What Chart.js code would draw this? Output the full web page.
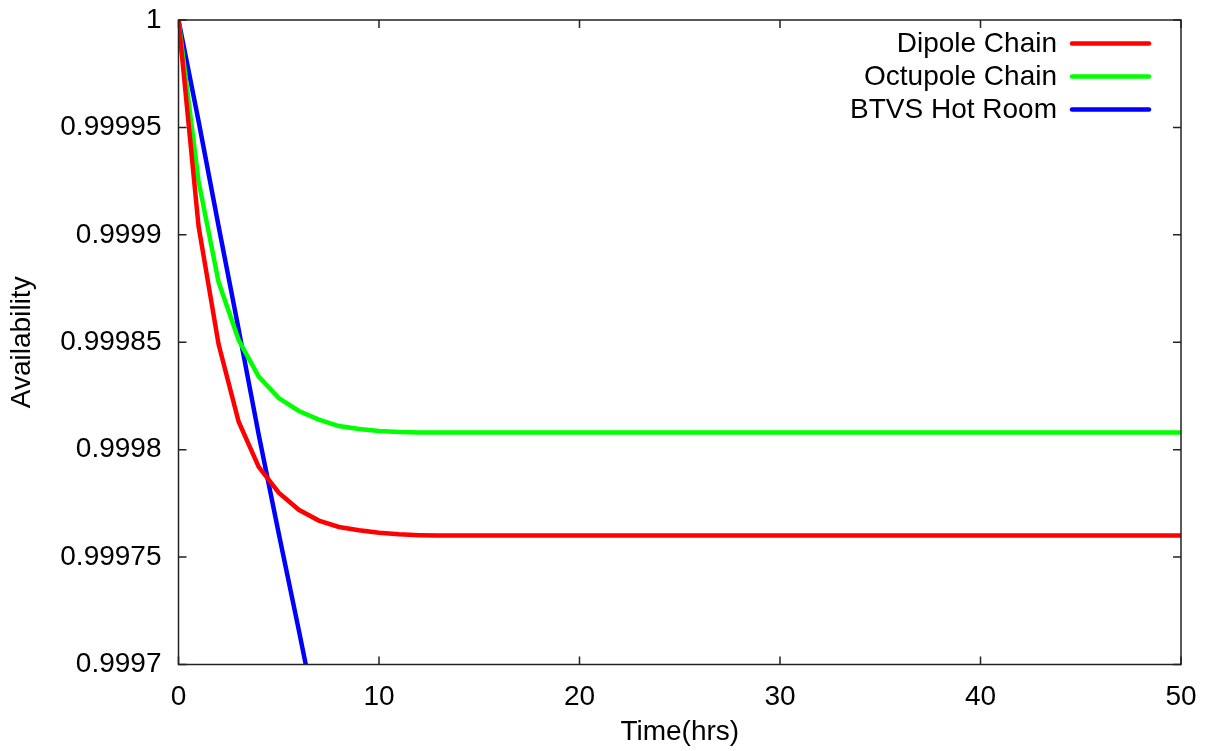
<!DOCTYPE html>
<html>
<head>
<meta charset="utf-8">
<title>Availability vs Time</title>
<script src="https://cdn.jsdelivr.net/npm/chart.js@4.4.1/dist/chart.umd.min.js"></script>
<style>
  html, body { margin: 0; padding: 0; background: #ffffff; }
  #wrap { width: 1213px; height: 751px; }
</style>
</head>
<body>
<div id="wrap"><canvas id="chart" width="1213" height="751"></canvas></div>
<script>
// Hours sampled once per hour
const hours = Array.from({ length: 51 }, (_, i) => i);

// Availability of the dipole chain, hour 0..50
const dipoleChain = [
  1, 0.999904, 0.999849, 0.999813, 0.999792, 0.99978, 0.999772, 0.999767,
  0.999764, 0.9997625, 0.9997613, 0.9997606, 0.9997602, 0.99976, 0.99976, 0.99976,
  0.99976, 0.99976, 0.99976, 0.99976, 0.99976, 0.99976, 0.99976, 0.99976,
  0.99976, 0.99976, 0.99976, 0.99976, 0.99976, 0.99976, 0.99976, 0.99976,
  0.99976, 0.99976, 0.99976, 0.99976, 0.99976, 0.99976, 0.99976, 0.99976,
  0.99976, 0.99976, 0.99976, 0.99976, 0.99976, 0.99976, 0.99976, 0.99976,
  0.99976, 0.99976, 0.99976
];

// Availability of the octupole chain, hour 0..50
const octupoleChain = [
  1, 0.999925, 0.999878, 0.999851, 0.999834, 0.999824, 0.999818, 0.999814,
  0.999811, 0.9998096, 0.9998087, 0.9998082, 0.999808, 0.999808, 0.999808, 0.999808,
  0.999808, 0.999808, 0.999808, 0.999808, 0.999808, 0.999808, 0.999808, 0.999808,
  0.999808, 0.999808, 0.999808, 0.999808, 0.999808, 0.999808, 0.999808, 0.999808,
  0.999808, 0.999808, 0.999808, 0.999808, 0.999808, 0.999808, 0.999808, 0.999808,
  0.999808, 0.999808, 0.999808, 0.999808, 0.999808, 0.999808, 0.999808, 0.999808,
  0.999808, 0.999808, 0.999808
];

// Availability of the BTVS hot room, hour 0..7 (falls off the bottom of the axis)
const btvsHours = [0, 1, 2, 3, 4, 5, 6, 7];
const btvsHotRoom = [1, 0.999953, 0.999904, 0.999856, 0.999807, 0.999761, 0.999716, 0.99967];

// Axis ticks
const xTickValues = [0, 10, 20, 30, 40, 50];
const yTickValues = [0.9997, 0.99975, 0.9998, 0.99985, 0.9999, 0.99995, 1];
const yTickLabels = ['0.9997', '0.99975', '0.9998', '0.99985', '0.9999', '0.99995', '1'];

const seriesLabels = ['Dipole Chain', 'Octupole Chain', 'BTVS Hot Room'];
const seriesColors = ['#ff0000', '#00ff00', '#0000ff'];

const FONT = "'Liberation Sans', Arial, Helvetica, sans-serif";
const TEXT_SIZE = 28;

function pairs(xs, ys) {
  return ys.map((y, i) => ({ x: xs[i], y: y }));
}

// Frame with inward ticks on all four sides
const framePlugin = {
  id: 'frame',
  afterDatasetsDraw(chart) {
    const { ctx, chartArea: a, scales } = chart;
    const tick = 8;
    ctx.save();
    ctx.strokeStyle = '#222222';
    ctx.lineWidth = 1.5;
    ctx.beginPath();
    xTickValues.forEach(v => {
      const px = scales.x.getPixelForValue(v);
      ctx.moveTo(px, a.bottom); ctx.lineTo(px, a.bottom - tick);
      ctx.moveTo(px, a.top); ctx.lineTo(px, a.top + tick);
    });
    yTickValues.forEach(v => {
      const py = scales.y.getPixelForValue(v);
      ctx.moveTo(a.left, py); ctx.lineTo(a.left + tick, py);
      ctx.moveTo(a.right, py); ctx.lineTo(a.right - tick, py);
    });
    ctx.stroke();
    ctx.strokeRect(a.left, a.top, a.right - a.left, a.bottom - a.top);
    ctx.restore();
  }
};

// Key in the top-right corner: label text followed by a line sample
const keyPlugin = {
  id: 'key',
  afterDraw(chart) {
    const { ctx } = chart;
    const o = chart.options.plugins.key;
    ctx.save();
    ctx.font = o.fontSize + 'px ' + FONT;
    ctx.textAlign = 'right';
    ctx.textBaseline = 'middle';
    chart.data.datasets.forEach((ds, i) => {
      const y = o.top + i * o.rowHeight;
      ctx.fillStyle = '#000000';
      ctx.fillText(ds.label, o.textRight, y + 1);
      ctx.strokeStyle = ds.borderColor;
      ctx.lineWidth = ds.borderWidth;
      ctx.lineCap = 'round';
      ctx.beginPath();
      ctx.moveTo(o.lineStart, y);
      ctx.lineTo(o.lineEnd, y);
      ctx.stroke();
    });
    ctx.restore();
  }
};

new Chart(document.getElementById('chart'), {
  type: 'line',
  data: {
    datasets: [
      { label: seriesLabels[0], data: pairs(hours, dipoleChain) },
      { label: seriesLabels[1], data: pairs(hours, octupoleChain) },
      { label: seriesLabels[2], data: pairs(btvsHours, btvsHotRoom) }
    ].map((d, i) => Object.assign(d, {
      borderColor: seriesColors[i],
      backgroundColor: seriesColors[i],
      borderWidth: 4.5,
      pointRadius: 0,
      tension: 0,
      fill: false
    }))
  },
  options: {
    responsive: false,
    animation: false,
    layout: { padding: { top: 20, right: 32, left: 0, bottom: 0 } },
    plugins: {
      legend: { display: false },
      tooltip: { enabled: false },
      key: { fontSize: TEXT_SIZE, top: 43.5, rowHeight: 33, textRight: 1057, lineStart: 1072, lineEnd: 1149 }
    },
    scales: {
      x: {
        type: 'linear',
        min: 0,
        max: 50,
        afterFit(scale) {
          scale.height = 86.5;
          scale.paddingLeft = 0;
          scale.paddingRight = 0;
        },
        afterBuildTicks(scale) { scale.ticks = xTickValues.map(v => ({ value: v })); },
        grid: { display: false, drawTicks: false },
        border: { display: false },
        ticks: {
          color: '#000000',
          font: { family: FONT, size: TEXT_SIZE },
          padding: 16,
          maxRotation: 0,
          callback: v => String(v)
        },
        title: {
          display: true,
          text: 'Time(hrs)',
          color: '#000000',
          font: { family: FONT, size: TEXT_SIZE },
          padding: { top: 2, bottom: 2 }
        }
      },
      y: {
        type: 'linear',
        min: 0.9997,
        max: 1,
        afterFit(scale) {
          scale.width = 178.5;
          scale.paddingTop = 0;
          scale.paddingBottom = 0;
        },
        afterBuildTicks(scale) { scale.ticks = yTickValues.map(v => ({ value: v })); },
        grid: { display: false, drawTicks: false },
        border: { display: false },
        ticks: {
          color: '#000000',
          font: { family: FONT, size: TEXT_SIZE },
          padding: 17,
          callback: (v, i) => yTickLabels[i]
        },
        title: {
          display: true,
          text: 'Availability',
          color: '#000000',
          font: { family: FONT, size: TEXT_SIZE },
          padding: { top: 5, bottom: 5 }
        }
      }
    }
  },
  plugins: [framePlugin, keyPlugin]
});
</script>
</body>
</html>
